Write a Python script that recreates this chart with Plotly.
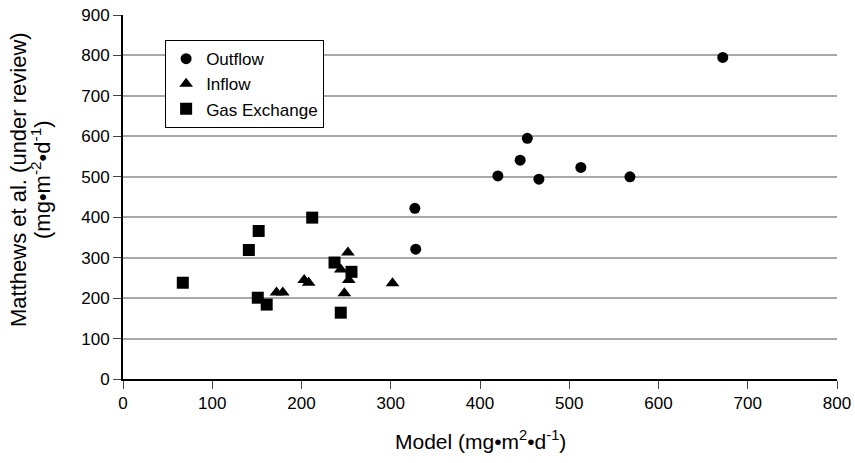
import plotly.graph_objects as go

# Outflow (circles)
outflow_x = [327, 328, 420, 445, 453, 466, 513, 568, 672]
outflow_y = [422, 321, 502, 541, 595, 494, 523, 500, 795]

# Inflow (triangles)
inflow_x = [172, 179, 203, 208, 244, 248, 252, 253, 302]
inflow_y = [214, 214, 245, 238, 271, 212, 313, 245, 237]

# Gas exchange (squares)
gas_x = [67, 141, 151, 152, 161, 212, 237, 244, 256]
gas_y = [238, 319, 201, 366, 184, 399, 288, 164, 265]

x_ticks = [0, 100, 200, 300, 400, 500, 600, 700, 800]
y_ticks = [0, 100, 200, 300, 400, 500, 600, 700, 800, 900]

fig = go.Figure()

fig.add_trace(go.Scatter(x=outflow_x, y=outflow_y, mode='markers', name='Outflow',
                         marker=dict(symbol='circle', size=11, color='black')))
fig.add_trace(go.Scatter(x=inflow_x, y=inflow_y, mode='markers', name='Inflow',
                         marker=dict(symbol='triangle-up', size=12, color='black')))
fig.add_trace(go.Scatter(x=gas_x, y=gas_y, mode='markers', name='Gas Exchange',
                         marker=dict(symbol='square', size=12, color='black')))

family = 'Liberation Sans, Arial, sans-serif'
font = dict(family=family, size=17, color='black')

fig.update_layout(
    width=855, height=463,
    margin=dict(l=123, r=18, t=15, b=84, autoexpand=False),
    paper_bgcolor='white', plot_bgcolor='white',
    font=font,
    showlegend=True,
    legend=dict(x=0.059, y=0.931, xanchor='left', yanchor='top',
                bordercolor='black', borderwidth=1, bgcolor='white',
                font=dict(size=17), tracegroupgap=0, itemwidth=30),
    xaxis=dict(
        range=[0, 800], tickvals=x_ticks,
        showgrid=False, zeroline=False, automargin=False,
        showline=True, linecolor='black', linewidth=2,
        ticks='outside', ticklen=8, tickcolor='#444', tickwidth=1,
        ticklabeloverflow='allow',
    ),
    yaxis=dict(
        range=[0, 900], tickvals=y_ticks,
        showgrid=True, gridcolor='#a8a8a8', gridwidth=1.5, zeroline=False,
        automargin=False,
        showline=True, linecolor='black', linewidth=2,
        ticks='outside', ticklen=8, tickcolor='#444', tickwidth=1,
        ticklabeloverflow='allow',
    ),
    annotations=[
        dict(text='Model (mg•m<sup>2</sup>•d<sup>-1</sup>)', xref='paper', yref='paper',
             x=0.5, y=0, yshift=-61, xanchor='center', yanchor='middle',
             showarrow=False, font=dict(family=family, size=21, color='black')),
        dict(text='Matthews et al. (under review)', xref='paper', yref='paper',
             x=0, y=0.5, xshift=-105, yshift=17, textangle=-90,
             xanchor='center', yanchor='middle', showarrow=False,
             font=dict(family=family, size=22, color='black')),
        dict(text='(mg•m<sup>-2</sup>•d<sup>-1</sup>)', xref='paper', yref='paper',
             x=0, y=0.5, xshift=-82, yshift=17, textangle=-90,
             xanchor='center', yanchor='middle', showarrow=False,
             font=dict(family=family, size=22, color='black')),
    ],
)

# drop the default 8px body margin so the figure sits at the window's corner
fig.write_html('out.html', config={'displayModeBar': False},
               post_script="document.body.style.margin='0px';")
